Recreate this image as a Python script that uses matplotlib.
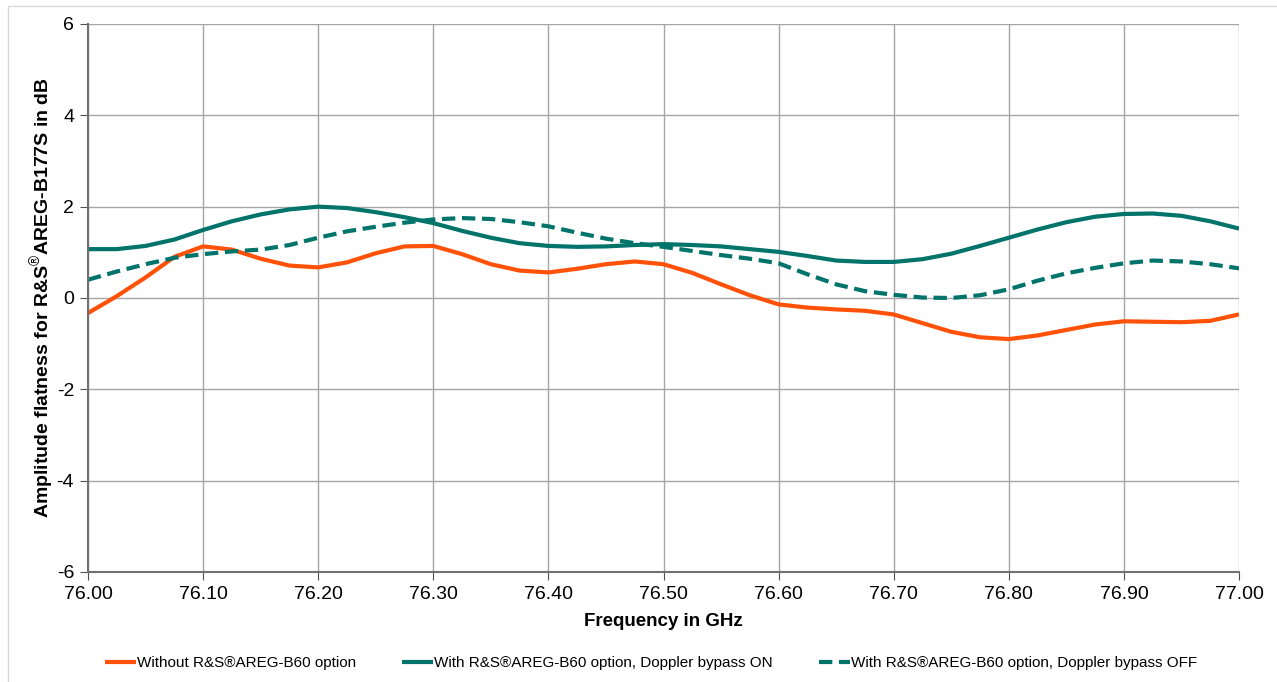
import matplotlib
matplotlib.use("Agg")
import matplotlib.pyplot as plt
from matplotlib.patches import Rectangle

plt.rcParams['font.family'] = ['Liberation Sans', 'DejaVu Sans']
plt.rcParams['mathtext.fontset'] = 'custom'
plt.rcParams['mathtext.rm'] = 'Liberation Sans'
plt.rcParams['mathtext.bf'] = 'Liberation Sans:bold'

freq = [76.000, 76.025, 76.050, 76.075, 76.100, 76.125, 76.150, 76.175, 76.200, 76.225,
        76.250, 76.275, 76.300, 76.325, 76.350, 76.375, 76.400, 76.425, 76.450, 76.475,
        76.500, 76.525, 76.550, 76.575, 76.600, 76.625, 76.650, 76.675, 76.700, 76.725,
        76.750, 76.775, 76.800, 76.825, 76.850, 76.875, 76.900, 76.925, 76.950, 76.975,
        77.000]

without_b60 = [-0.33, 0.04, 0.45, 0.90, 1.13, 1.06, 0.86, 0.71, 0.67, 0.78,
               0.98, 1.13, 1.14, 0.96, 0.74, 0.60, 0.56, 0.64, 0.74, 0.80,
               0.74, 0.55, 0.30, 0.06, -0.14, -0.21, -0.25, -0.28, -0.36, -0.55,
               -0.74, -0.86, -0.90, -0.82, -0.70, -0.58, -0.51, -0.52, -0.53, -0.50,
               -0.36]

bypass_on = [1.07, 1.07, 1.14, 1.28, 1.49, 1.68, 1.83, 1.94, 2.00, 1.97,
             1.88, 1.77, 1.64, 1.47, 1.32, 1.20, 1.14, 1.12, 1.13, 1.16,
             1.18, 1.16, 1.13, 1.07, 1.01, 0.92, 0.82, 0.79, 0.79, 0.85,
             0.97, 1.14, 1.32, 1.50, 1.66, 1.78, 1.84, 1.85, 1.80, 1.68,
             1.52]

bypass_off = [0.40, 0.58, 0.74, 0.88, 0.96, 1.02, 1.06, 1.16, 1.32, 1.46,
              1.56, 1.65, 1.72, 1.75, 1.73, 1.66, 1.57, 1.43, 1.30, 1.20,
              1.12, 1.03, 0.94, 0.86, 0.76, 0.52, 0.30, 0.15, 0.07, 0.01,
              0.00, 0.06, 0.19, 0.38, 0.54, 0.66, 0.76, 0.82, 0.80, 0.74,
              0.65]

x_ticks = [76.0, 76.1, 76.2, 76.3, 76.4, 76.5, 76.6, 76.7, 76.8, 76.9, 77.0]
y_ticks = [-6, -4, -2, 0, 2, 4, 6]

labels = ['Without R&S®AREG-B60 option',
          'With R&S®AREG-B60 option, Doppler bypass ON',
          'With R&S®AREG-B60 option, Doppler bypass OFF']

orange = '#FF5208'
teal = '#00736A'

fig = plt.figure(figsize=(12.77, 6.82), dpi=100)
fig.patches.append(Rectangle((8/1277, -0.01), 1.2, 1 - 6/682 + 0.01,
                             transform=fig.transFigure, fill=False,
                             edgecolor='#D9D9D9', linewidth=1.0))
ax = fig.add_axes([88/1277, 1 - 572/682, (1239 - 88)/1277, (572 - 24)/682])

ax.plot(freq, without_b60, color=orange, lw=3.0, label=labels[0],
        solid_capstyle='butt', solid_joinstyle='round')
ax.plot(freq, bypass_on, color=teal, lw=3.0, label=labels[1],
        solid_capstyle='butt', solid_joinstyle='round')
ax.plot(freq, bypass_off, color=teal, lw=3.0, ls=(0, (3.2, 1.6)), label=labels[2],
        dash_capstyle='butt', dash_joinstyle='round')

ax.set_xlim(76.0, 77.0)
ax.set_ylim(-6, 6)
ax.set_xticks(x_ticks)
ax.set_xticklabels([f'{v:.2f}' for v in x_ticks])
ax.set_yticks(y_ticks)
ax.set_yticklabels([str(v) for v in y_ticks])
ax.grid(True, color='#A6A6A6', lw=1.0)
ax.set_axisbelow(True)
for s in ['top', 'right']:
    ax.spines[s].set_visible(False)
for s in ['left', 'bottom']:
    ax.spines[s].set_color('#707070')
    ax.spines[s].set_linewidth(1.5)
ax.tick_params(axis='both', direction='out', length=6, color='#505050',
               labelsize=14, pad=4)

ax.set_xlabel('Frequency in GHz', fontsize=13.5, fontweight='bold', labelpad=7)
ax.set_ylabel(r'Amplitude flatness for R&S$^{®}$AREG-B177S in dB', fontsize=14,
              fontweight='bold', labelpad=0)

leg = fig.legend(loc='center', bbox_to_anchor=(0.51, 1 - 663/682), ncol=3,
                 frameon=False, fontsize=11, handlelength=2.0, handletextpad=0.1,
                 columnspacing=3.0)
for t in leg.get_texts():
    t.set_family(['Liberation Sans Narrow', 'Liberation Sans', 'DejaVu Sans'])

fig.savefig('out.png', dpi=100)
